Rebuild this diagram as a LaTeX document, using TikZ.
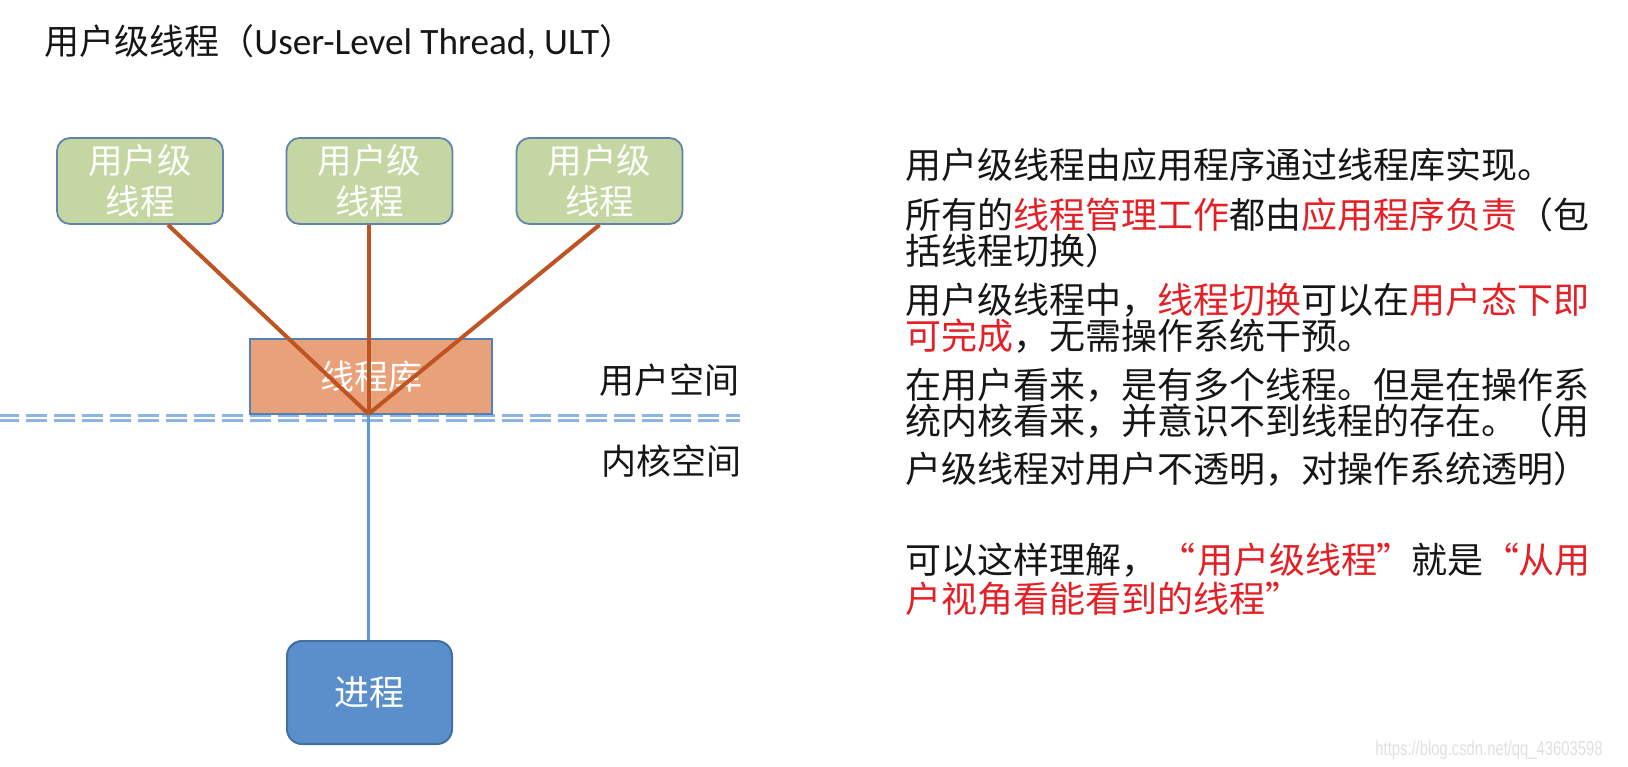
\documentclass[tikz,border=0pt]{standalone}
\usepackage{fontspec}
\setmainfont{Carlito}
\newfontfamily\cjk{Noto Sans CJK SC}
\newfontfamily\wmfont{Liberation Sans}
\definecolor{hlred}{RGB}{228,32,38}
\definecolor{tx}{RGB}{22,22,22}
\definecolor{gfill}{RGB}{196,215,163}
\definecolor{gbord}{RGB}{98,132,172}
\definecolor{ofill}{RGB}{233,161,122}
\definecolor{obord}{RGB}{79,129,189}
\definecolor{brown}{RGB}{190,84,36}
\definecolor{vblue}{RGB}{96,152,212}
\definecolor{pfill}{RGB}{91,143,203}
\definecolor{pbord}{RGB}{65,113,160}
\definecolor{dblue}{RGB}{141,180,226}
\newcommand\hlt[1]{\textcolor{hlred}{#1}}
\tikzset{
  rt/.style={anchor=base west, inner sep=0pt, text=tx, font=\fontsize{18pt}{21pt}\selectfont\cjk},
  lbl/.style={anchor=base west, inner sep=0pt, text=tx, font=\fontsize{17.5pt}{21pt}\selectfont\cjk},
  ultbox/.style={draw=gbord, line width=0.9pt, fill=gfill, rounded corners=6.5pt,
    minimum width=83pt, minimum height=43pt, inner sep=0pt, align=center, text=white,
    font=\fontsize{17.25pt}{20.5pt}\selectfont\cjk},
  libbox/.style={draw=obord, line width=0.8pt, fill=ofill, minimum width=121pt, minimum height=37.5pt,
    inner sep=0pt, text=white, font=\fontsize{17pt}{20pt}\selectfont\cjk},
  procbox/.style={draw=pbord, line width=1pt, fill=pfill, rounded corners=7.5pt,
    minimum width=82.5pt, minimum height=51.5pt, inner sep=0pt, text=white,
    font=\fontsize{17.5pt}{20pt}\selectfont\cjk},
  thrline/.style={draw=brown, line width=2pt},
  kline/.style={draw=vblue, line width=1.8pt},
  sepline/.style={draw=dblue, line width=1.25pt, dash pattern=on 10.5pt off 3.5pt, dash phase=1pt},
}
\begin{document}
\begin{tikzpicture}[x=0.5pt,y=-0.5pt]
\useasboundingbox (0,0) rectangle (1628,766);
\fill[white] (0,0) rectangle (1628,766);

% title
\node[anchor=base west, inner sep=0pt, text=tx, font=\fontsize{18.6pt}{21pt}\selectfont] (title) at (44,54)
  {{\cjk\fontsize{17.5pt}{21pt}\selectfont 用户级线程（}User-Level Thread, ULT{\cjk\fontsize{17.5pt}{21pt}\selectfont ）}};

% separator (double dashed)
\coordinate (sl) at (0,418);
\coordinate (sr) at (740,418);
\draw[sepline] ([yshift=1.3pt]sl) -- ([yshift=1.3pt]sr);
\draw[sepline] ([yshift=-1.3pt]sl) -- ([yshift=-1.3pt]sr);

% library box
\node[libbox] (lib) at (371,376.5) {线程库};

% user-level threads
\node[ultbox] (t1) at (140,181) {用户级\\线程};
\node[ultbox] (t2) at (369.5,181) {用户级\\线程};
\node[ultbox] (t3) at (599.5,181) {用户级\\线程};

% process
\node[procbox] (proc) at (369.5,692.5) {进程};

\coordinate (conv) at (368.5,414);

% kernel line
\draw[kline] (conv) -- (conv |- proc.north);

% thread lines
\draw[thrline] ([xshift=14pt]t1.south) -- (conv);
\draw[thrline] ([xshift=-0.5pt]t2.south) -- (conv);
\draw[thrline] (t3.south) -- (conv);

% space labels
\node[lbl] (us) at (599,393) {用户空间};
\node[lbl] (ks) at (601,474) {内核空间};

% right text
\node[rt] (r1) at (905,178) {用户级线程由应用程序通过线程库实现。};
\node[rt] (r2) at (905,228) {所有的\hlt{线程管理工作}都由\hlt{应用程序负责}（包};
\node[rt] (r3) at (905,264) {括线程切换）};
\node[rt] (r4) at (905,313) {用户级线程中，\hlt{线程切换}可以在\hlt{用户态下即}};
\node[rt] (r5) at (905,349) {\hlt{可完成}，无需操作系统干预。};
\node[rt] (r6) at (905,398) {在用户看来，是有多个线程。但是在操作系};
\node[rt] (r7) at (905,434) {统内核看来，并意识不到线程的存在。（用};
\node[rt] (r8) at (905,482) {户级线程对用户不透明，对操作系统透明）};
\node[rt] (r9) at (905,573) {可以这样理解，\hlt{\makebox[1.12em]{“}用户级线程\makebox[0.95em]{”}}就是\hlt{\makebox[0.95em]{“}从用}};
\node[rt] (r10) at (905,612) {\hlt{户视角看能看到的线程\makebox[1em]{”}}};

% watermark
\node[anchor=base west, inner sep=0pt, text=black!12, font=\fontsize{10pt}{12pt}\selectfont\wmfont] (wm) at (1375,755)
  {\scalebox{0.74}[1]{https://blog.csdn.net/qq\_43603598}};
\end{tikzpicture}
\end{document}
